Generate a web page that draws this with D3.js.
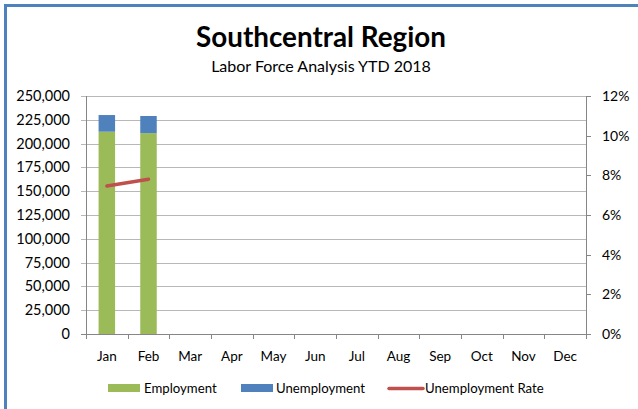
<!DOCTYPE html>
<html><head><meta charset="utf-8">
<script src="https://cdn.jsdelivr.net/npm/d3@7"></script>
<style>body{margin:0;background:#fff;}svg{display:block;font-family:Lato,"Open Sans",sans-serif;}</style>
</head><body><svg id="c" width="638" height="409"></svg>
<script>
const months = ["Jan","Feb","Mar","Apr","May","Jun","Jul","Aug","Sep","Oct","Nov","Dec"];
const employment = [212500, 211000];
const unemployment = [17500, 18000];
const unempRate = [0.0746, 0.0780];
const leftTicks = [0,25000,50000,75000,100000,125000,150000,175000,200000,225000,250000];
const rightTicks = [0,0.02,0.04,0.06,0.08,0.10,0.12];
const seriesNames = ["Employment","Unemployment","Unemployment Rate"];
const colors = {emp:"#9bbb59", unemp:"#4f81bd", rate:"#c0504d", frame:"#4f81bd"};

const svg = d3.select("#c");
svg.append("path").attr("d","M5.5,409 L5.5,5.5 L638,5.5").attr("fill","none").attr("stroke",colors.frame).attr("stroke-width",3);

const L=86, R=586, T=96, B=334;
const x = d3.scaleBand().domain(months).range([L,R]).paddingInner(0.6).paddingOuter(0.3);
const yL = d3.scaleLinear().domain([0,250000]).range([B,T]);
const yR = d3.scaleLinear().domain([0,0.12]).range([B,T]);

svg.append("g").selectAll("line").data(leftTicks).join("line")
  .attr("x1",L-5).attr("x2",R).attr("y1",d=>Math.round(yL(d))+0.5).attr("y2",d=>Math.round(yL(d))+0.5)
  .attr("stroke",d=>d===0?"#868686":"#b8b8b8").attr("stroke-width",1);
svg.append("line").attr("x1",L+0.5).attr("x2",L+0.5).attr("y1",T).attr("y2",B+5).attr("stroke","#868686");
svg.append("line").attr("x1",R+0.5).attr("x2",R+0.5).attr("y1",T).attr("y2",B).attr("stroke","#868686");
svg.append("g").selectAll("line").data(rightTicks).join("line")
  .attr("x1",R).attr("x2",R+5).attr("y1",d=>Math.round(yR(d))+0.5).attr("y2",d=>Math.round(yR(d))+0.5).attr("stroke","#868686");
svg.append("g").selectAll("line").data(d3.range(13)).join("line")
  .attr("x1",i=>Math.round(L+i*(R-L)/12)+0.5).attr("x2",i=>Math.round(L+i*(R-L)/12)+0.5)
  .attr("y1",B).attr("y2",B+5).attr("stroke","#868686");

const fmt = d3.format(",");
svg.append("g").selectAll("text").data(leftTicks).join("text")
  .attr("x",L-16).attr("y",d=>yL(d)).attr("dy","0.35em").attr("text-anchor","end")
  .attr("font-size",14.5).attr("fill","#000").text(d=>fmt(d));
svg.append("g").selectAll("text").data(rightTicks).join("text")
  .attr("x",R+16).attr("y",d=>yR(d)).attr("dy","0.35em").attr("text-anchor","start")
  .attr("font-size",14).attr("fill","#000").text(d=>d3.format(".0%")(d));
svg.append("g").selectAll("text").data(months).join("text")
  .attr("x",d=>x(d)+x.bandwidth()/2).attr("y",356).attr("dy","0.35em").attr("text-anchor","middle")
  .attr("font-size",13.5).attr("fill","#000").text(d=>d);

const bw = 16.5;
const g = svg.append("g");
employment.forEach((v,i)=>{
  const cx = x(months[i])+x.bandwidth()/2;
  g.append("rect").attr("x",cx-bw/2).attr("width",bw).attr("y",yL(v)).attr("height",yL(0)-yL(v)).attr("fill",colors.emp);
  g.append("rect").attr("x",cx-bw/2).attr("width",bw).attr("y",yL(v+unemployment[i])).attr("height",yL(v)-yL(v+unemployment[i])).attr("fill",colors.unemp);
});
const line = d3.line().x((d,i)=>x(months[i])+x.bandwidth()/2).y(d=>yR(d));
svg.append("path").datum(unempRate).attr("d",line).attr("fill","none").attr("stroke",colors.rate).attr("stroke-width",3.5).attr("stroke-linecap","round");

svg.append("text").attr("x",321).attr("y",47).attr("text-anchor","middle").attr("font-size",27.8).attr("font-weight","bold").attr("fill","#000").text("Southcentral Region");
svg.append("text").attr("x",321).attr("y",72).attr("text-anchor","middle").attr("font-size",16).attr("fill","#000").text("Labor Force Analysis YTD 2018");

const lg = svg.append("g").attr("font-size",13.2).attr("fill","#000");
lg.append("rect").attr("x",108).attr("y",384).attr("width",32).attr("height",8).attr("fill",colors.emp);
lg.append("text").attr("x",144).attr("y",388).attr("dy","0.35em").text(seriesNames[0]);
lg.append("rect").attr("x",241).attr("y",384).attr("width",32).attr("height",8).attr("fill",colors.unemp);
lg.append("text").attr("x",276).attr("y",388).attr("dy","0.35em").text(seriesNames[1]);
lg.append("line").attr("x1",389).attr("x2",423).attr("y1",388.5).attr("y2",388.5).attr("stroke",colors.rate).attr("stroke-width",3.5).attr("stroke-linecap","round");
lg.append("text").attr("x",425).attr("y",388).attr("dy","0.35em").text(seriesNames[2]);
</script></body></html>
